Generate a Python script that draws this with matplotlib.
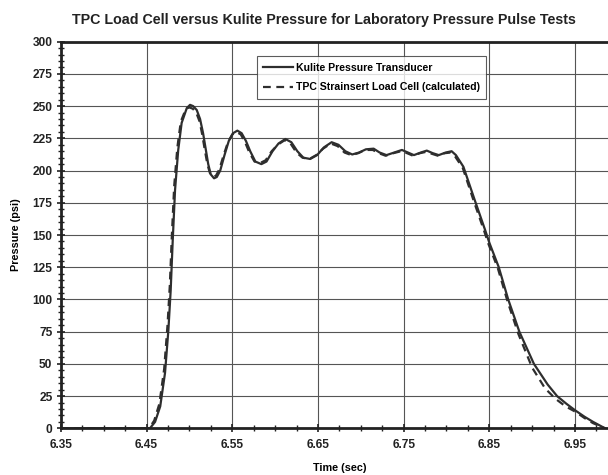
import numpy as np
import matplotlib.pyplot as plt
from matplotlib.ticker import MultipleLocator, FixedLocator

# Kulite pressure transducer
kulite_t = [6.35, 6.454, 6.460, 6.466, 6.4716, 6.4755, 6.4782, 6.4806, 6.4833, 6.487,
            6.491, 6.497, 6.5008, 6.5045, 6.5086, 6.5125, 6.516, 6.519, 6.522, 6.525,
            6.5288, 6.532, 6.536, 6.541, 6.546, 6.551, 6.556, 6.561, 6.566, 6.571,
            6.577, 6.584, 6.590, 6.597, 6.604, 6.612, 6.619, 6.626, 6.633, 6.641,
            6.649, 6.657, 6.666, 6.674, 6.682, 6.690, 6.698, 6.706, 6.715, 6.722,
            6.730, 6.739, 6.748, 6.755, 6.762, 6.770, 6.777, 6.784, 6.791, 6.799,
            6.806, 6.811, 6.8197, 6.833, 6.845, 6.850, 6.861, 6.872, 6.885, 6.902,
            6.918, 6.929, 6.940, 6.950, 6.961, 6.971, 6.985]
kulite_p = [0, 0, 5, 17, 43, 76, 107, 146, 185, 216,
            237, 248.5, 251, 250, 247, 240, 229, 217, 205, 197,
            194, 195, 200, 212, 223, 229, 231, 229, 223, 215,
            207, 205, 207, 215, 221, 224.5, 222, 215, 210, 209,
            212, 218, 222, 220, 215, 212.5, 214, 216.5, 217, 214,
            212, 214, 216, 214, 212, 214, 215.5, 213.5, 212, 214,
            215, 212, 203, 177, 154, 144, 125, 100, 75, 50,
            34, 25, 19, 14, 9, 5, 0]

# TPC strainsert load cell (calculated)
tpc_t = [6.35, 6.453, 6.459, 6.465, 6.4706, 6.4745, 6.4772, 6.4796, 6.4823, 6.486,
         6.490, 6.496, 6.500, 6.504, 6.508, 6.512, 6.515, 6.518, 6.521, 6.524,
         6.528, 6.531, 6.535, 6.540, 6.545, 6.550, 6.555, 6.560, 6.565, 6.570,
         6.576, 6.583, 6.589, 6.596, 6.603, 6.611, 6.618, 6.625, 6.632, 6.640,
         6.648, 6.656, 6.665, 6.673, 6.681, 6.689, 6.697, 6.705, 6.714, 6.721,
         6.729, 6.738, 6.747, 6.754, 6.761, 6.769, 6.776, 6.783, 6.790, 6.798,
         6.805, 6.810, 6.819, 6.832, 6.844, 6.849, 6.860, 6.871, 6.884, 6.900,
         6.915, 6.927, 6.939, 6.950, 6.961, 6.971, 6.985]
tpc_p = [0, 0, 6, 19, 46, 80, 111, 150, 188, 218,
         238, 248, 249, 248, 245, 238, 228, 216, 205, 198,
         195, 196, 201, 212, 222, 228, 230, 228, 222, 214,
         207, 206, 208, 215, 220, 223.5, 221, 214, 210, 209,
         212, 217, 221, 219, 214, 212, 213.5, 216, 216, 213.5,
         211.5, 213.5, 215, 213.5, 211.5, 213.5, 214.5, 213, 211.5, 213.5,
         214, 211, 202, 176, 153, 143, 124, 99, 73, 47,
         31, 23, 17, 13, 8, 4, 0]

x_ticks = [6.35, 6.45, 6.55, 6.65, 6.75, 6.85, 6.95]
y_ticks = list(range(0, 301, 25))

plt.rcParams['font.family'] = ['Liberation Sans', 'DejaVu Sans']
plt.rcParams['font.weight'] = 'bold'

fig = plt.figure(figsize=(6.08, 4.75), dpi=100)
ax = fig.add_axes([0.1, 0.0983, 0.9163, 0.8139])

ax.plot(kulite_t, kulite_p, color='#2e2e2e', lw=1.6, label='Kulite Pressure Transducer')
ax.plot(tpc_t, tpc_p, color='#2e2e2e', lw=1.6, ls=(0, (3.5, 2.5)),
        label='TPC Strainsert Load Cell (calculated)')

ax.set_xlim(6.35, 7.0)
ax.set_ylim(0, 300)
ax.xaxis.set_major_locator(FixedLocator(x_ticks))
ax.xaxis.set_minor_locator(FixedLocator(np.arange(6.35, 7.0, 0.025)))
ax.yaxis.set_major_locator(FixedLocator(y_ticks))
ax.yaxis.set_minor_locator(MultipleLocator(5))
ax.set_xticklabels([f'{v:.2f}' for v in x_ticks])
ax.grid(True, which='major', color='#555555', lw=0.8)
ax.set_axisbelow(True)

ax.tick_params(which='major', direction='inout', length=6, width=1.2, labelsize=8.6,
               colors='#222222', pad=3)
ax.tick_params(axis='x', which='major', pad=5)
ax.tick_params(which='minor', direction='inout', length=4, width=1.0, colors='#222222')
for s in ax.spines.values():
    s.set_linewidth(2.0)
    s.set_color('#222222')

ax.set_xlabel('Time (sec)', fontsize=7.8, fontweight='bold', labelpad=8)
ax.set_ylabel('Pressure (psi)', fontsize=7.8, fontweight='bold', labelpad=8)
fig.text(0.532, 0.958, 'TPC Load Cell versus Kulite Pressure for Laboratory Pressure Pulse Tests',
         ha='center', va='center', fontsize=10.3, fontweight='bold', color='#222222')

leg = ax.legend(loc='upper left', bbox_to_anchor=(0.352, 0.962), borderaxespad=0,
                fontsize=7.6, frameon=True, fancybox=False, edgecolor='#333333',
                handlelength=2.8, borderpad=0.6, labelspacing=0.9, handletextpad=0.3)
leg.get_frame().set_linewidth(0.8)
for txt in leg.get_texts():
    txt.set_fontweight('bold')

fig.savefig('out.png', dpi=100)
